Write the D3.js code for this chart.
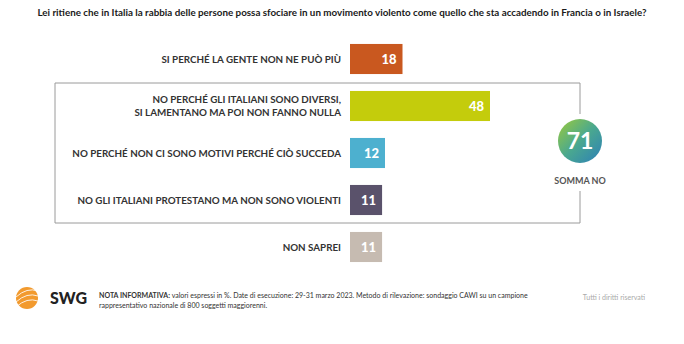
<!DOCTYPE html>
<html><head><meta charset="utf-8">
<script src="https://cdn.jsdelivr.net/npm/d3@7"></script>
<style>body{margin:0;background:#fff;} svg{display:block;}</style>
</head><body>
<svg id="c" width="684" height="344"></svg>
<script>
const title = "Lei ritiene che in Italia la rabbia delle persone possa sfociare in un movimento violento come quello che sta accadendo in Francia o in Israele?";
const categories = [
  ["SI PERCHÉ LA GENTE NON NE PUÒ PIÙ"],
  ["NO PERCHÉ GLI ITALIANI SONO DIVERSI,", "SI LAMENTANO MA POI NON FANNO NULLA"],
  ["NO PERCHÉ NON CI SONO MOTIVI PERCHÉ CIÒ SUCCEDA"],
  ["NO GLI ITALIANI PROTESTANO MA NON SONO VIOLENTI"],
  ["NON SAPREI"]
];
const values = [18, 48, 12, 11, 11];
const colors = ["#C9581F", "#C4CC0C", "#4DB0CF", "#5A526B", "#C6BBB1"];
const sommaNo = 71;
const sommaLabel = "SOMMA NO";
const notaBold = "NOTA INFORMATIVA:";
const notaLine1 = " valori espressi in %. Date di esecuzione: 29-31 marzo 2023. Metodo di rilevazione: sondaggio CAWI su un campione";
const notaLine2 = "rappresentativo nazionale di 800 soggetti maggiorenni.";
const rights = "Tutti i diritti riservati";

const svg = d3.select("#c");
const font = "Lato, 'Open Sans', sans-serif";

const defs = svg.append("defs");
const g = defs.append("linearGradient").attr("id","grad").attr("x1","0%").attr("y1","0%").attr("x2","100%").attr("y2","100%");
g.append("stop").attr("offset","0%").attr("stop-color","#9CCB3B");
g.append("stop").attr("offset","50%").attr("stop-color","#4AA88F");
g.append("stop").attr("offset","100%").attr("stop-color","#2C7FB8");

function fit(sel, target, base) {
  const w = sel.node().getComputedTextLength();
  sel.attr("font-size", base * target / w);
  return base * target / w;
}

const t = svg.append("text").attr("x", 342).attr("y", 16).attr("text-anchor","middle")
  .attr("font-family", font).attr("font-weight","bold").attr("font-size", 10).attr("fill","#1a1a1a")
  .text(title);
fit(t, 610, 10);

const x = d3.scaleLinear().domain([0, 48]).range([350, 490]);
const y = d3.scaleBand().domain(d3.range(values.length)).range([35.5, 270.5]).paddingInner(0.36).paddingOuter(0.18);

const boxTop = 83, boxBottom = 223, boxLeft = 55, boxRight = 580;
const cx = 580, cy = 141, r = 22;
svg.append("path").attr("stroke","#9a9a9a").attr("stroke-width",1).attr("fill","none")
  .attr("d", `M${boxRight},${cy - r - 5} V${boxTop} H${boxLeft} V${boxBottom} H${boxRight} V${191}`);

const rows = svg.append("g").selectAll("g").data(values).join("g");
rows.append("rect")
  .attr("x", x(0)).attr("y", (d,i)=>y(i)).attr("width", d=>x(d)-x(0)).attr("height", y.bandwidth())
  .attr("fill", (d,i)=>colors[i]);
rows.append("text")
  .attr("x", d=>x(d)-6).attr("y", (d,i)=>y(i)+y.bandwidth()/2+5)
  .attr("text-anchor","end").attr("font-family", font).attr("font-weight","900").attr("font-size", 13)
  .attr("fill","#fff").text(d=>d);
rows.append("text")
  .attr("x", 341).attr("text-anchor","end").attr("font-family", font).attr("font-weight","bold")
  .attr("font-size", 9.8).attr("fill","#333")
  .each(function(d,i){
    const lines = categories[i];
    const c = y(i)+y.bandwidth()/2;
    const start = c - (lines.length-1)*6.5 + 3.5;
    d3.select(this).selectAll("tspan").data(lines).join("tspan")
      .attr("x", 341).attr("y", (l,j)=>start + j*13).text(l=>l);
  });

svg.append("circle").attr("cx", cx).attr("cy", cy).attr("r", r).attr("fill","url(#grad)");
svg.append("text").attr("x", cx).attr("y", cy+8).attr("text-anchor","middle")
  .attr("font-family", font).attr("font-weight","bold").attr("font-size", 23).attr("fill","#fff").text(sommaNo);
svg.append("text").attr("x", cx).attr("y", 184).attr("text-anchor","middle")
  .attr("font-family", font).attr("font-weight","bold").attr("font-size", 9).attr("fill","#555").text(sommaLabel);

const logo = svg.append("g");
logo.append("circle").attr("cx", 27).attr("cy", 298).attr("r", 11).attr("fill","#F29A2E");
[ -5, 0, 5 ].forEach(o=>{
  logo.append("path").attr("d", `M${16},${298+o+4} Q27,${298+o-6} 38,${298+o-2}`)
    .attr("stroke","#fff").attr("stroke-width",1).attr("fill","none").attr("opacity",0.85);
});
svg.append("text").attr("x", 50).attr("y", 304).attr("font-family", font).attr("font-weight","900")
  .attr("font-size", 16).attr("fill","#222").text("SWG");

const nota = svg.append("text").attr("x", 99).attr("y", 298).attr("font-family", font).attr("font-size", 7).attr("fill","#333");
nota.append("tspan").attr("font-weight","bold").text(notaBold);
nota.append("tspan").text(notaLine1);
const nfs = fit(nota, 430, 7);
svg.append("text").attr("x", 99).attr("y", 308).attr("font-family", font).attr("font-size", nfs).attr("fill","#333").text(notaLine2);
svg.append("text").attr("x", 645).attr("y", 300).attr("text-anchor","end").attr("font-family", font)
  .attr("font-size", nfs).attr("fill","#aaa").text(rights);
</script>
</body></html>
